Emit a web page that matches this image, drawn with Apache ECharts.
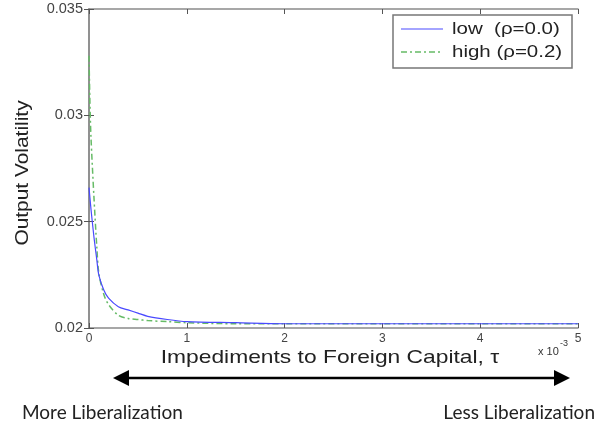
<!DOCTYPE html>
<html><head><meta charset="utf-8">
<script src="https://cdn.jsdelivr.net/npm/echarts@6/dist/echarts.min.js"></script>
<style>html,body{margin:0;padding:0;background:#fff}#c{width:603px;height:428px}</style>
</head><body><div id="c"></div>
<script>
var tau = [0, 0.01, 0.02, 0.05, 0.08, 0.1, 0.15, 0.2, 0.3, 0.4, 0.5, 0.6, 0.8, 1, 1.5, 2, 3, 4, 5];
var lowVals = [0.0266, 0.0261, 0.0256, 0.0243, 0.0232, 0.0225, 0.0218, 0.0214, 0.0210, 0.02085, 0.0207, 0.02055, 0.0204, 0.0203, 0.02025, 0.0202, 0.0202, 0.0202, 0.0202];
var highVals = [0.0328, 0.0305, 0.0290, 0.0262, 0.0238, 0.0226, 0.0216, 0.0211, 0.0206, 0.02045, 0.0204, 0.02035, 0.0203, 0.02025, 0.0202, 0.0202, 0.0202, 0.0202, 0.0202];
var seriesNames = ['low  (\u03c1=0.0)', 'high (\u03c1=0.2)'];
var seriesColors = ['#4a4aff', '#66bb66'];
var xTitle = 'Impediments to Foreign Capital, \u03c4';
var yTitle = 'Output Volatility';
var leftNote = 'More Liberalization';
var rightNote = 'Less Liberalization';

function pairs(xs, ys){ return xs.map(function(x,i){ return [x, ys[i]]; }); }

var chart = echarts.init(document.getElementById('c'), null, {renderer:'canvas'});
var axisLine = {show:true, lineStyle:{color:'#8a8a8a', width:1.5}};
var tick = {show:true, inside:true, length:5, lineStyle:{color:'#555', width:1}};
var SANS = '"Liberation Sans", Arial, sans-serif';
var greenDash = [6,3,2,3];
chart.setOption({
  animation:false,
  backgroundColor:'#fff',
  grid:{left:89, right:25, top:9, bottom:100, containLabel:false},
  xAxis:[
    {type:'value', min:0, max:5, interval:1, position:'bottom',
     axisLine:axisLine, axisTick:tick, splitLine:{show:false},
     axisLabel:{margin:5, color:'#444', fontFamily:SANS, fontSize:12}},
    {type:'value', min:0, max:5, interval:1, position:'top',
     axisLine:axisLine, axisTick:tick, splitLine:{show:false}, axisLabel:{show:false}}
  ],
  yAxis:[
    {type:'value', min:0.02, max:0.035, interval:0.005, position:'left',
     axisLine:axisLine, axisTick:tick, splitLine:{show:false},
     axisLabel:{margin:6, color:'#444', fontFamily:SANS, fontSize:14.5,
       formatter:function(v){return String(+v.toFixed(3));}}},
    {type:'value', min:0.02, max:0.035, interval:0.005, position:'right',
     axisLine:axisLine, axisTick:tick, splitLine:{show:false}, axisLabel:{show:false}}
  ],
  series:[
    {name:seriesNames[0], type:'line', data:pairs(tau, lowVals), showSymbol:false, smooth:0.3,
     lineStyle:{color:seriesColors[0], width:1.2, type:'solid'}, z:3},
    {name:seriesNames[1], type:'line', data:pairs(tau, highVals), showSymbol:false, smooth:0.3,
     lineStyle:{color:seriesColors[1], width:1.5, type:greenDash}, z:2}
  ],
  graphic:[
    {type:'text', x:23, y:173, rotation:Math.PI/2, scaleX:1.1,
     style:{text:yTitle, font:'19px ' + SANS, fill:'#222', align:'center', verticalAlign:'middle'}},
    {type:'text', x:330, y:358, scaleX:1.2,
     style:{text:xTitle, font:'19px ' + SANS, fill:'#222', align:'center', verticalAlign:'middle'}},
    {type:'text', x:538, y:352, style:{text:'x 10', font:'11px ' + SANS, fill:'#333', verticalAlign:'middle'}},
    {type:'text', x:560, y:344, style:{text:'-3', font:'9px ' + SANS, fill:'#333', verticalAlign:'middle'}},
    {type:'rect', shape:{x:393, y:15, width:179, height:53}, style:{fill:'#fff', stroke:'#777', lineWidth:1.5}, z:10},
    {type:'line', shape:{x1:401, y1:29, x2:443, y2:29}, style:{stroke:seriesColors[0], lineWidth:1.2}, z:11},
    {type:'line', shape:{x1:401, y1:52, x2:443, y2:52}, style:{stroke:seriesColors[1], lineWidth:1.5, lineDash:greenDash}, z:11},
    {type:'text', x:452, y:30, scaleX:1.28, style:{text:seriesNames[0], font:'16px ' + SANS, fill:'#222', verticalAlign:'middle'}, z:11},
    {type:'text', x:452, y:53, scaleX:1.28, style:{text:seriesNames[1], font:'16px ' + SANS, fill:'#222', verticalAlign:'middle'}, z:11},
    {type:'line', shape:{x1:125, y1:378, x2:558, y2:378}, style:{stroke:'#000', lineWidth:2.5}},
    {type:'polygon', shape:{points:[[113,378],[129,370],[129,386]]}, style:{fill:'#000'}},
    {type:'polygon', shape:{points:[[570,378],[554,370],[554,386]]}, style:{fill:'#000'}},
    {type:'text', x:22, y:413, style:{text:leftNote, font:'19px Lato, "Open Sans", sans-serif', fill:'#222', verticalAlign:'middle'}},
    {type:'text', x:595, y:413, style:{text:rightNote, font:'19px Lato, "Open Sans", sans-serif', fill:'#222', align:'right', verticalAlign:'middle'}}
  ]
});
</script></body></html>
